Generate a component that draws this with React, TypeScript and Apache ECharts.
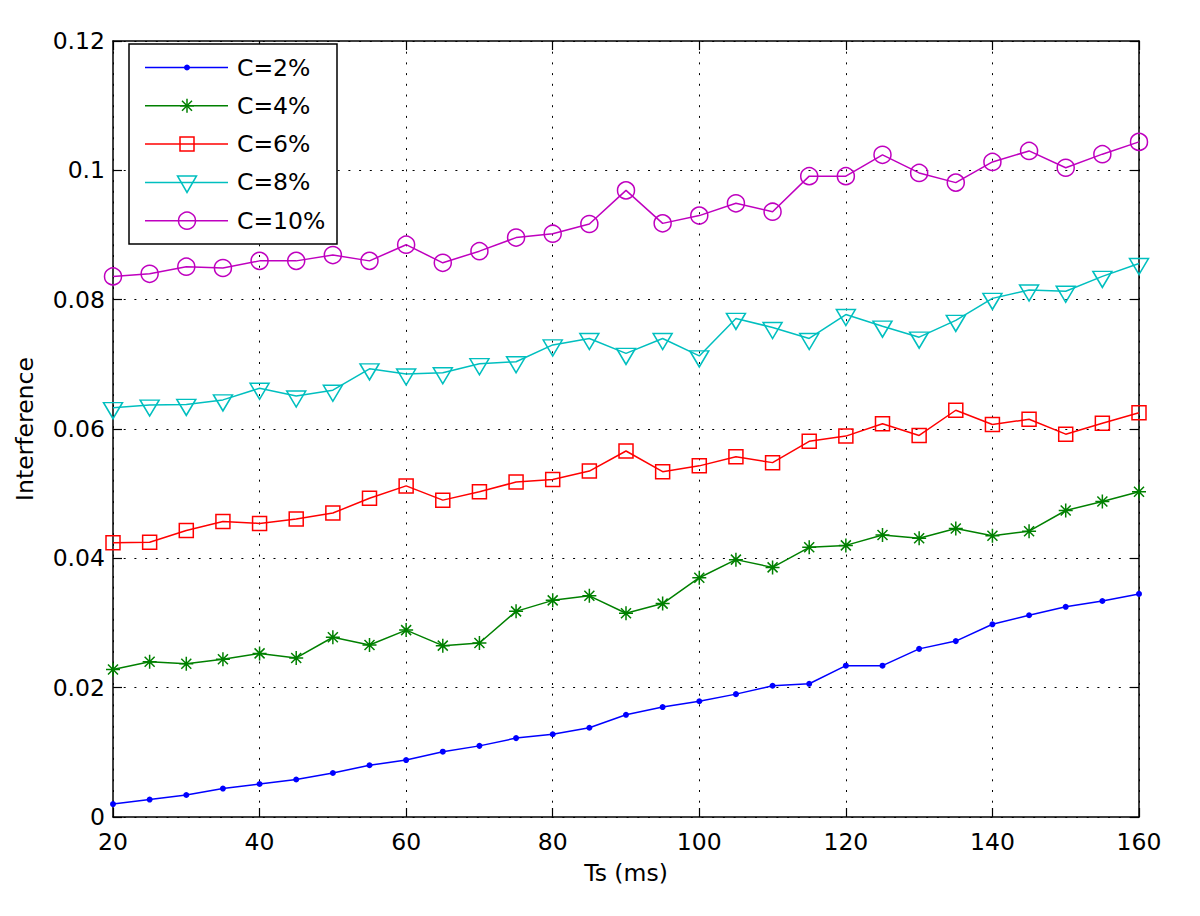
import React, { useEffect, useRef } from "react";
import * as echarts from "echarts";

const ts = [20, 25, 30, 35, 40, 45, 50, 55, 60, 65, 70, 75, 80, 85, 90, 95, 100, 105, 110, 115, 120, 125, 130, 135, 140, 145, 150, 155, 160];

const c2 = [0.0020, 0.0027, 0.0034, 0.0044, 0.0051, 0.0058, 0.0068, 0.0080, 0.0088, 0.0101, 0.0110, 0.0122, 0.0128, 0.0138, 0.0158, 0.0170, 0.0179, 0.0190, 0.0203, 0.0206, 0.0234, 0.0234, 0.0260, 0.0272, 0.0298, 0.0312, 0.0325, 0.0334, 0.0345];
const c4 = [0.0228, 0.0240, 0.0237, 0.0244, 0.0253, 0.0246, 0.0278, 0.0266, 0.0289, 0.0265, 0.0269, 0.0318, 0.0335, 0.0342, 0.0315, 0.0330, 0.0370, 0.0398, 0.0386, 0.0417, 0.0420, 0.0436, 0.0431, 0.0446, 0.0435, 0.0442, 0.0474, 0.0488, 0.0503];
const c6 = [0.0424, 0.0425, 0.0443, 0.0457, 0.0454, 0.0461, 0.0470, 0.0493, 0.0512, 0.0490, 0.0503, 0.0518, 0.0522, 0.0535, 0.0566, 0.0534, 0.0543, 0.0557, 0.0548, 0.0581, 0.0589, 0.0608, 0.0590, 0.0629, 0.0607, 0.0615, 0.0592, 0.0609, 0.0625];
const c8 = [0.0633, 0.0637, 0.0638, 0.0645, 0.0663, 0.0651, 0.0660, 0.0693, 0.0685, 0.0687, 0.0701, 0.0704, 0.0730, 0.0740, 0.0717, 0.0740, 0.0713, 0.0771, 0.0757, 0.0740, 0.0777, 0.0759, 0.0742, 0.0768, 0.0802, 0.0815, 0.0813, 0.0836, 0.0856];
const c10 = [0.0836, 0.0840, 0.0851, 0.0849, 0.0860, 0.0860, 0.0869, 0.0860, 0.0885, 0.0857, 0.0875, 0.0896, 0.0902, 0.0917, 0.0969, 0.0918, 0.0930, 0.0949, 0.0936, 0.0991, 0.0991, 0.1024, 0.0996, 0.0981, 0.1013, 0.1030, 0.1004, 0.1025, 0.1044];

const seriesNames = ["C=2%", "C=4%", "C=6%", "C=8%", "C=10%"];
const seriesValues = [c2, c4, c6, c8, c10];

const xTitle = "Ts (ms)";
const yTitle = "Interference";

const COLORS = ["#0000ff", "#008000", "#ff0000", "#00bfbf", "#bf00bf"];
const FONT = "DejaVu Sans";
const FS = 23.5;

const ASTERISK = "path://M7,0L7,14M0,7L14,7M2,2L12,12M2,12L12,2";
const TRI_DOWN = "path://M0,0L20,0L10,17Z";

const symbolCfg = [
  { symbol: "circle", symbolSize: 6, symbolOffset: [0, 0], filled: true },
  { symbol: ASTERISK, symbolSize: 14, symbolOffset: [0, 0], filled: false },
  { symbol: "rect", symbolSize: 14, symbolOffset: [0, 0], filled: false },
  { symbol: TRI_DOWN, symbolSize: [19, 16], symbolOffset: [0, 3], filled: false },
  { symbol: "circle", symbolSize: 17, symbolOffset: [0, 0], filled: false },
];

function buildLegend() {
  const els: any[] = [];
  const bx = 129, by = 44, bw = 208, bh = 200;
  els.push({
    type: "rect",
    z: 100,
    shape: { x: bx, y: by, width: bw, height: bh },
    style: { fill: "#fff", stroke: "#000", lineWidth: 1.5 },
  });
  const mx = 187;
  seriesNames.forEach((name, i) => {
    const ry = 67.5 + i * 38.3;
    const col = COLORS[i];
    els.push({
      type: "line",
      z: 101,
      shape: { x1: 145, y1: ry, x2: 228, y2: ry },
      style: { stroke: col, lineWidth: 1.5 },
    });
    if (i === 0) {
      els.push({ type: "circle", z: 102, shape: { cx: mx, cy: ry, r: 3 }, style: { fill: col } });
    } else if (i === 1) {
      const r = 7;
      const d = 5;
      [
        [mx, ry - r, mx, ry + r],
        [mx - r, ry, mx + r, ry],
        [mx - d, ry - d, mx + d, ry + d],
        [mx - d, ry + d, mx + d, ry - d],
      ].forEach((s) => {
        els.push({ type: "line", z: 102, shape: { x1: s[0], y1: s[1], x2: s[2], y2: s[3] }, style: { stroke: col, lineWidth: 1.5 } });
      });
    } else if (i === 2) {
      els.push({ type: "rect", z: 102, shape: { x: mx - 7, y: ry - 7, width: 14, height: 14 }, style: { fill: "none", stroke: col, lineWidth: 1.5 } });
    } else if (i === 3) {
      els.push({
        type: "polygon",
        z: 102,
        shape: { points: [[mx - 9.5, ry - 6.5], [mx + 9.5, ry - 6.5], [mx, ry + 10]] },
        style: { fill: "none", stroke: col, lineWidth: 1.5 },
      });
    } else {
      els.push({ type: "circle", z: 102, shape: { cx: mx, cy: ry, r: 8.5 }, style: { fill: "none", stroke: col, lineWidth: 1.5 } });
    }
    els.push({
      type: "text",
      z: 102,
      x: 237,
      y: ry,
      style: { text: name, fill: "#000", font: `${FS}px "${FONT}"`, verticalAlign: "middle", align: "left" },
    });
  });
  return els;
}

export default function App() {
  const ref = useRef<HTMLDivElement>(null);
  useEffect(() => {
    if (!ref.current) return;
    const chart = echarts.init(ref.current, null, { renderer: "svg" });
    const axisLineStyle = { color: "#000", width: 1.5 };
    const tickStyle = { color: "#000", width: 1.2 };
    const labelStyle = { color: "#000", fontSize: FS, fontFamily: FONT };
    const split = { show: true, lineStyle: { color: "#000", width: 1, type: [2, 8.7] } };
    const option: any = {
      animation: false,
      backgroundColor: "#fff",
      grid: { left: 113, right: 61, top: 41, bottom: 99, containLabel: false, outerBoundsMode: "none" },
      xAxis: [
        {
          type: "value",
          position: "bottom",
          min: 20,
          max: 160,
          interval: 20,
          name: xTitle,
          nameLocation: "middle",
          nameGap: 44,
          nameTextStyle: labelStyle,
          axisLine: { show: true, onZero: false, lineStyle: axisLineStyle },
          axisTick: { show: true, inside: true, length: 9, lineStyle: tickStyle },
          axisLabel: { ...labelStyle, margin: 13 },
          splitLine: split,
        },
        {
          type: "value",
          position: "top",
          min: 20,
          max: 160,
          interval: 20,
          axisLine: { show: true, onZero: false, lineStyle: axisLineStyle },
          axisTick: { show: true, inside: true, length: 9, lineStyle: tickStyle },
          axisLabel: { show: false },
          splitLine: { show: false },
        },
      ],
      yAxis: [
        {
          type: "value",
          position: "left",
          min: 0,
          max: 0.12,
          interval: 0.02,
          name: yTitle,
          nameLocation: "middle",
          nameGap: 76,
          nameTextStyle: labelStyle,
          axisLine: { show: true, onZero: false, lineStyle: axisLineStyle },
          axisTick: { show: true, inside: true, length: 9, lineStyle: tickStyle },
          axisLabel: { ...labelStyle, margin: 8, formatter: (v: number) => String(+v.toFixed(2)) },
          splitLine: split,
        },
        {
          type: "value",
          position: "right",
          min: 0,
          max: 0.12,
          interval: 0.02,
          axisLine: { show: true, onZero: false, lineStyle: axisLineStyle },
          axisTick: { show: true, inside: true, length: 9, lineStyle: tickStyle },
          axisLabel: { show: false },
          splitLine: { show: false },
        },
      ],
      series: seriesNames.map((name, i) => ({
        type: "line",
        name,
        xAxisIndex: 0,
        yAxisIndex: 0,
        data: ts.map((t, k) => [t, seriesValues[i][k]]),
        symbol: symbolCfg[i].symbol,
        symbolSize: symbolCfg[i].symbolSize,
        symbolOffset: symbolCfg[i].symbolOffset,
        showSymbol: true,
        clip: false,
        lineStyle: { color: COLORS[i], width: 1.5 },
        itemStyle: symbolCfg[i].filled
          ? { color: COLORS[i] }
          : { color: "rgba(0,0,0,0)", borderColor: COLORS[i], borderWidth: 1.5 },
        emphasis: { disabled: true },
        z: 3 + i,
      })),
      graphic: buildLegend(),
    };
    chart.setOption(option);
    return () => chart.dispose();
  }, []);
  return (
    <div
      ref={ref}
      style={{ position: "fixed", left: 0, top: 0, width: 1200, height: 916, background: "#fff" }}
    />
  );
}
